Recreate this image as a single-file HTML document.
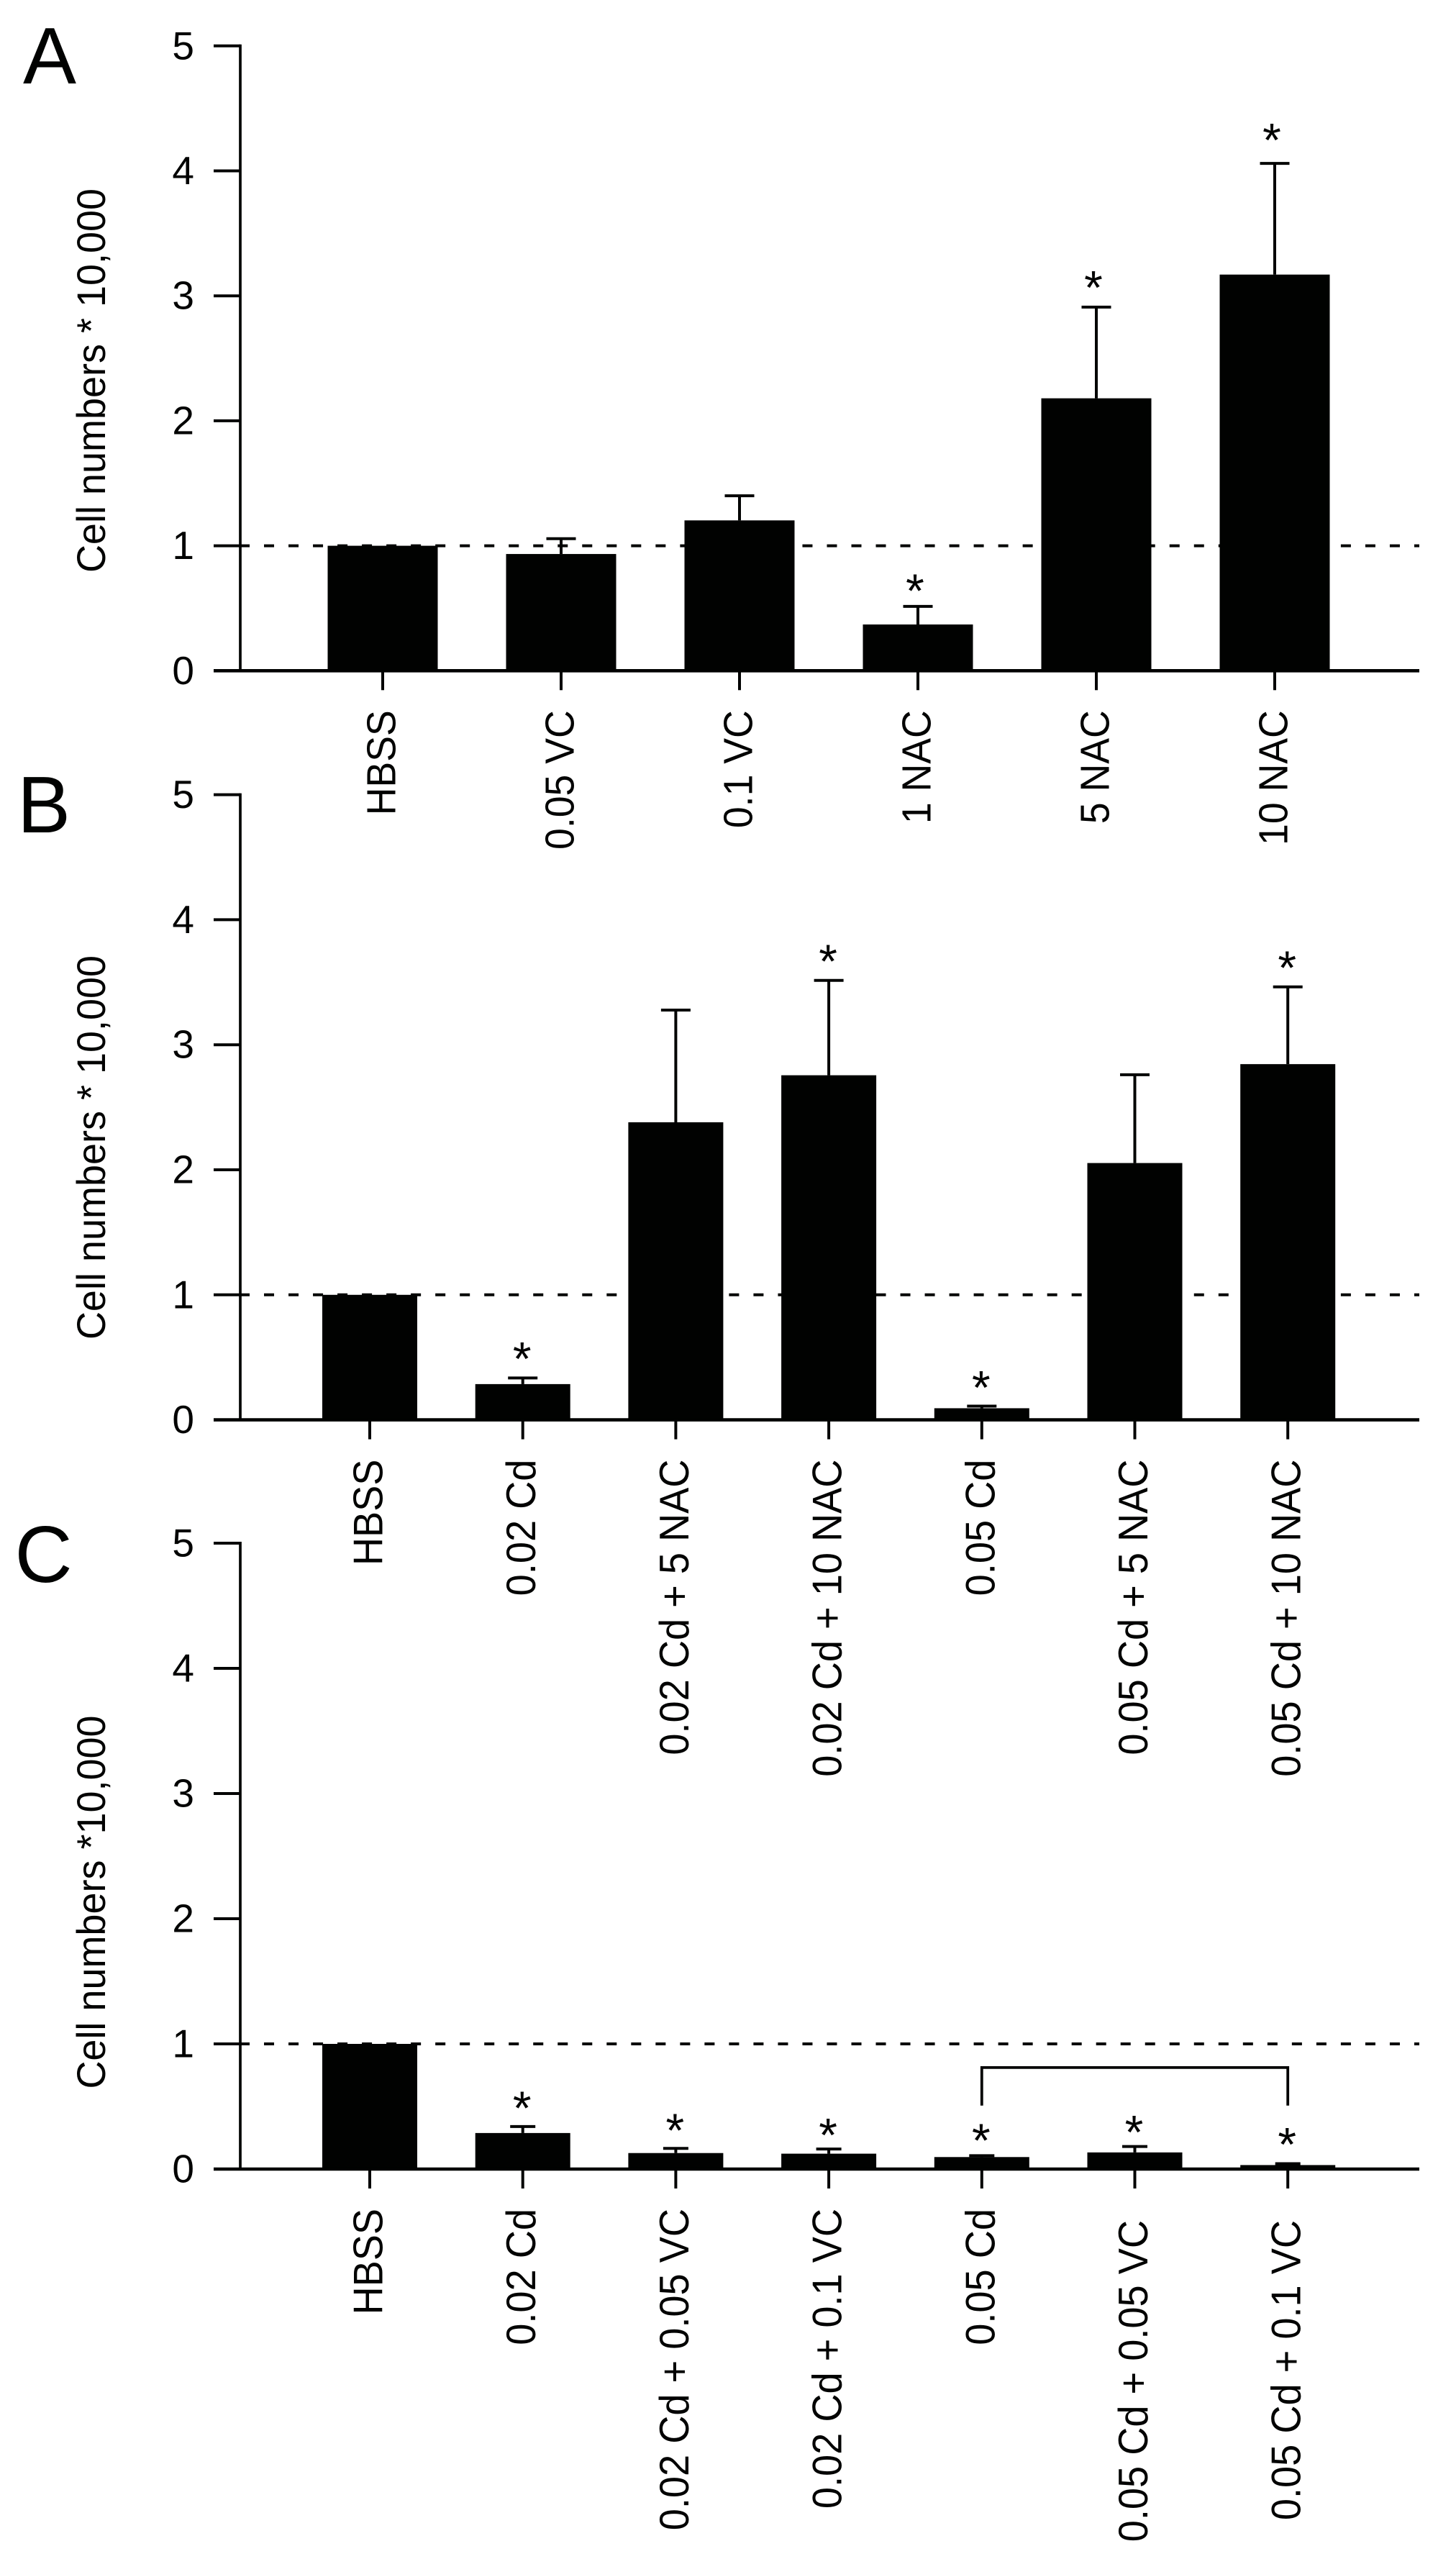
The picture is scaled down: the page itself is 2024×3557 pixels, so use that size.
<!DOCTYPE html>
<html lang="en">
<head>
<meta charset="utf-8">
<title>Cell numbers bar charts</title>
<style>
html,body{margin:0;padding:0;background:#fff;}
svg{display:block;font-family:"Liberation Sans",Arial,sans-serif;}
</style>
</head>
<body>
<svg id="figure" xmlns="http://www.w3.org/2000/svg" width="2024" height="3557" viewBox="0 0 2024 3557">
<rect x="0" y="0" width="2024" height="3557" fill="#fff"/>
</svg>
<script>
const yTicks = [0, 1, 2, 3, 4, 5];
const referenceValue = 1;

const aLabels = ["HBSS", "0.05 VC", "0.1 VC", "1 NAC", "5 NAC", "10 NAC"];
const aValues = [1, 0.934, 1.203, 0.37, 2.18, 3.17];
const aErrors = [0, 0.123, 0.197, 0.145, 0.73, 0.89];
const aStars = [null, null, null, 0.693, 3.12, 4.30];

const bLabels = ["HBSS", "0.02 Cd", "0.02 Cd + 5 NAC", "0.02 Cd + 10 NAC", "0.05 Cd", "0.05 Cd + 5 NAC", "0.05 Cd + 10 NAC"];
const bValues = [1, 0.286, 2.38, 2.756, 0.093, 2.054, 2.845];
const bErrors = [0, 0.049, 0.897, 0.759, 0.017, 0.706, 0.618];
const bStars = [null, 0.54, null, 3.72, 0.31, null, 3.668];

const cLabels = ["HBSS", "0.02 Cd", "0.02 Cd + 0.05 VC", "0.02 Cd + 0.1 VC", "0.05 Cd", "0.05 Cd + 0.05 VC", "0.05 Cd + 0.1 VC"];
const cValues = [1, 0.288, 0.128, 0.123, 0.096, 0.133, 0.032];
const cErrors = [0, 0.052, 0.037, 0.037, 0.011, 0.047, 0.011];
const cStars = [null, 0.54, 0.363, 0.326, 0.283, 0.347, 0.25];
const cBracketFrom = 4;
const cBracketTo = 6;
const cBracketTop = 0.811;
const cBracketBottom = 0.507;

const svg = document.getElementById('figure');
const NS = 'http://www.w3.org/2000/svg';
const INK = '#010201';

function make(tag, attrs, text) {
  const el = document.createElementNS(NS, tag);
  for (const k in attrs) el.setAttribute(k, attrs[k]);
  if (text !== undefined) el.textContent = text;
  return el;
}
function slug(s) {
  return s.toLowerCase().replace(/[^a-z0-9]+/g, '-').replace(/^-|-$/g, '');
}

function drawPanel(p) {
  const g = make('g', {});
  
  
  svg.appendChild(g);

  const yScale = v => p.y0 - v * p.unit;
  const xScale = i => p.x0 + i * p.step;

  // panel letter
  const letter = make('text', {x: p.letterX, y: p.letterY, 'font-size': 111, fill: INK}, p.id);
  
  
  g.appendChild(letter);

  // y axis title
  const title = make('text', {
    transform: 'translate(146 ' + p.titleCenter + ') rotate(-90) scale(1 1.03)',
    'text-anchor': 'middle', 'font-size': 54, fill: INK
  }, p.title);
  
  
  g.appendChild(title);

  // reference dashed line
  const dash = make('line', {
    x1: 333, x2: 1973, y1: yScale(referenceValue), y2: yScale(referenceValue),
    stroke: INK, 'stroke-width': 4, 'stroke-dasharray': '14 20.02'
  });
  
  
  g.appendChild(dash);

  // y ticks
  yTicks.forEach(t => {
    const tick = make('line', {
      x1: 297, x2: 334, y1: yScale(t), y2: yScale(t), stroke: INK, 'stroke-width': t === 0 ? 0 : 4
    });
    
    
    g.appendChild(tick);
    const lab = make('text', {
      x: 270, y: yScale(t) + 18.5, 'text-anchor': 'end', 'font-size': 55, fill: INK
    }, String(t));
    
    
    g.appendChild(lab);
  });

  // bars, errors, ticks, labels, stars
  p.labels.forEach((name, i) => {
    const cx = xScale(i);
    const v = p.values[i];
    const e = p.errors[i];
    if (e > 0) {
      const stem = make('line', {
        x1: cx, x2: cx, y1: yScale(v), y2: yScale(v + e), stroke: INK, 'stroke-width': 4
      });
      
      
      g.appendChild(stem);
      const cap = make('line', {
        x1: cx - p.cap / 2, x2: cx + p.cap / 2, y1: yScale(v + e), y2: yScale(v + e),
        stroke: INK, 'stroke-width': 4
      });
      
      
      g.appendChild(cap);
    }
    const bar = make('rect', {
      x: cx - p.barWidth / 2, y: yScale(v), width: p.barWidth, height: p.y0 - yScale(v), fill: INK
    });
    
    
    g.appendChild(bar);

    const tick = make('line', {
      x1: cx, x2: cx, y1: p.y0, y2: p.y0 + 27, stroke: INK, 'stroke-width': 4
    });
    
    
    g.appendChild(tick);

    const drop = (p.id === 'C' && /^0\.05 Cd \+/.test(name)) ? 16 : 0;
    const lab = make('text', {
      transform: 'translate(' + (cx + 17.5) + ' ' + (p.y0 + 55 + drop) + ') rotate(-90) scale(1 1.06)',
      'text-anchor': 'end', 'font-size': p.labelSize, fill: INK
    }, name);
    
    
    g.appendChild(lab);

    if (p.stars[i] !== null) {
      const star = make('text', {
        x: cx + p.starShift, y: yScale(p.stars[i]) + 32,
        'text-anchor': 'middle', 'font-size': 66, fill: INK
      }, '*');
      
      
      g.appendChild(star);
    }
  });

  // axes
  const yAxis = make('line', {
    x1: 334, x2: 334, y1: yScale(5) - 2, y2: p.y0, stroke: INK, 'stroke-width': 3.7
  });
  
  
  g.appendChild(yAxis);
  const xAxis = make('line', {
    x1: 297, x2: 1973, y1: p.y0, y2: p.y0, stroke: INK, 'stroke-width': 4.6
  });
  
  
  g.appendChild(xAxis);

  if (p.bracket) {
    const xa = xScale(p.bracket.from);
    const xb = xScale(p.bracket.to);
    const yt = yScale(p.bracket.top);
    const yb = yScale(p.bracket.bottom);
    const br = make('path', {
      d: 'M' + xa + ' ' + yb + 'V' + yt + 'H' + xb + 'V' + yb,
      fill: 'none', stroke: INK, 'stroke-width': 3.8
    });
    
    
    g.appendChild(br);
  }
}

drawPanel({
  id: 'A', letterX: 32, letterY: 116, title: 'Cell numbers * 10,000', titleCenter: 529,
  y0: 932.3, unit: 173.7, x0: 532, step: 248, barWidth: 153, cap: 41, labelSize: 53.6, starShift: -4,
  labels: aLabels, values: aValues, errors: aErrors, stars: aStars
});
drawPanel({
  id: 'B', letterX: 24, letterY: 1157, title: 'Cell numbers * 10,000', titleCenter: 1595,
  y0: 1973.6, unit: 173.8, x0: 514, step: 212.7, barWidth: 132, cap: 41, labelSize: 54.2, starShift: -1,
  labels: bLabels, values: bValues, errors: bErrors, stars: bStars
});
drawPanel({
  id: 'C', letterX: 20.5, letterY: 2199, title: 'Cell numbers *10,000', titleCenter: 2644,
  y0: 3015, unit: 174, x0: 514, step: 212.7, barWidth: 132, cap: 35, labelSize: 54.2, starShift: -1,
  labels: cLabels, values: cValues, errors: cErrors, stars: cStars,
  bracket: {from: cBracketFrom, to: cBracketTo, top: cBracketTop, bottom: cBracketBottom}
});
</script>
</body>
</html>
